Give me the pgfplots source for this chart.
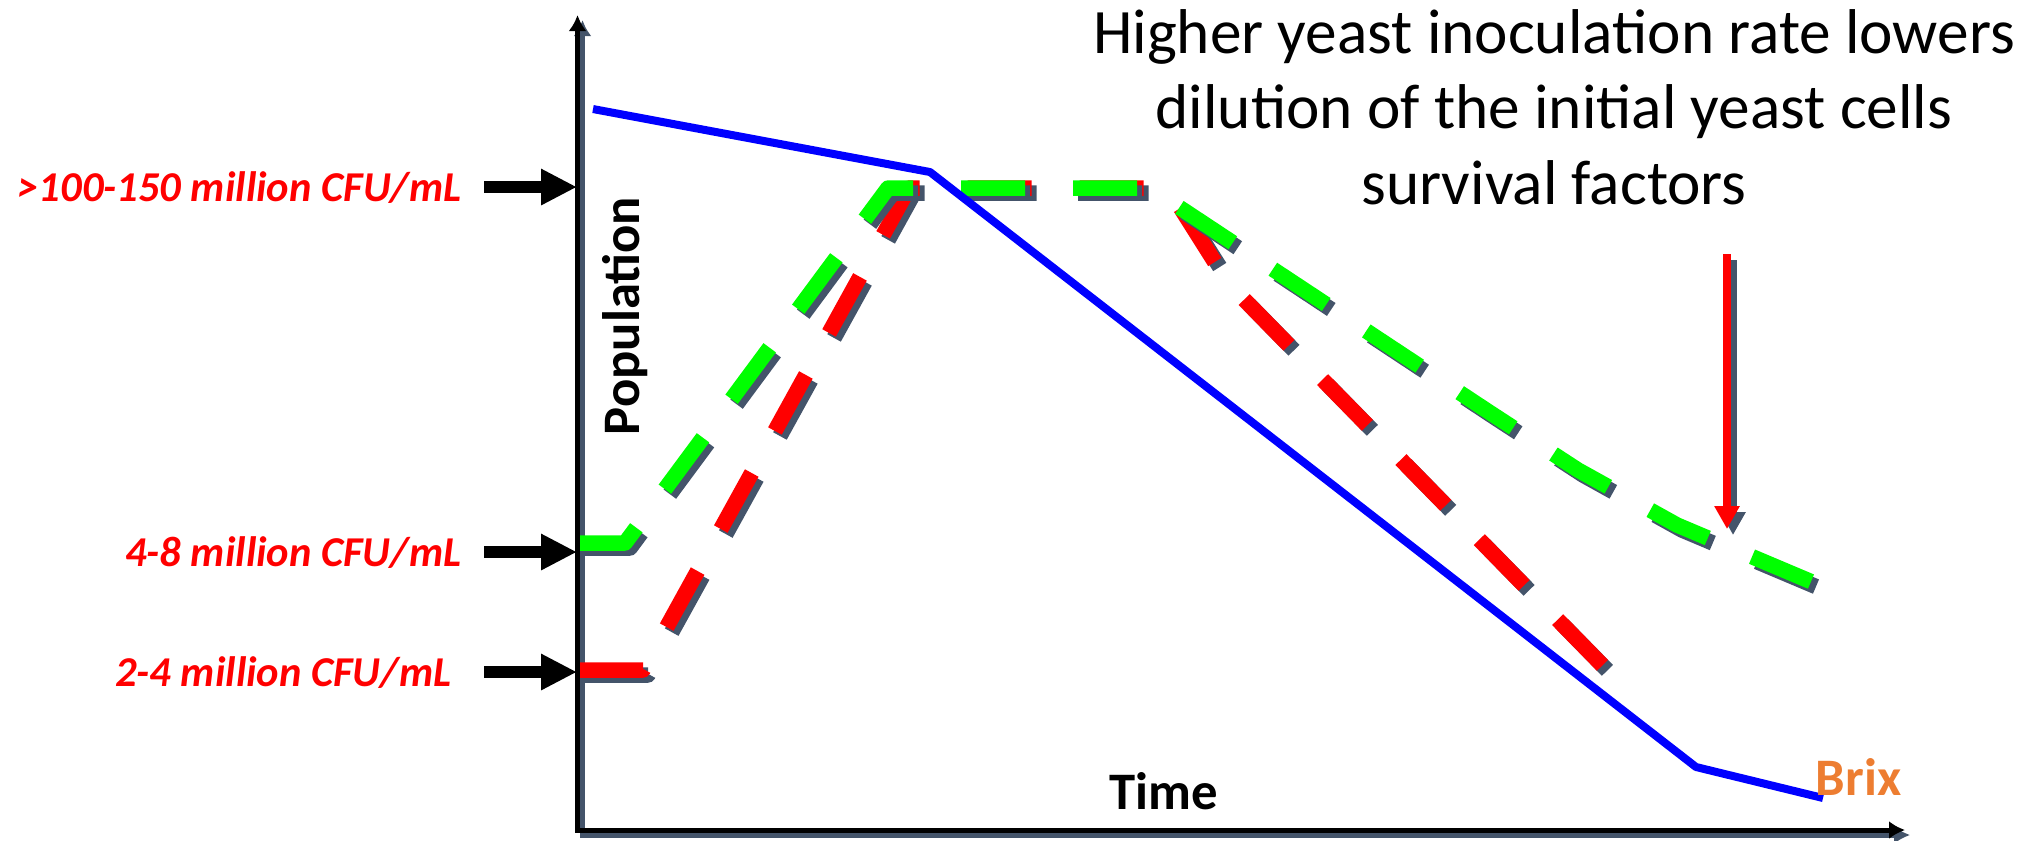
\documentclass[border=0pt]{standalone}
\usepackage{fontspec}
\setmainfont{Carlito}
\usepackage{pgfplots}
\usepackage{pgfplotstable}
\pgfplotsset{compat=1.18}
\usetikzlibrary{arrows.meta}
\definecolor{shad}{HTML}{44546A}
\definecolor{brixor}{HTML}{ED7D31}
\definecolor{gr}{HTML}{00FF00}

% pixel coordinates of the reference (y measured downwards)
\pgfplotstableread{
x y
593 109
930 172
1696 767
1823 798
}\brixdata
\pgfplotstableread{
x y
580 543
625 543
888 188
1150 188
1489 412
1578 470
1677 525
1812 582
}\greendata
\pgfplotstableread{
x y
580 670
643 670
909 188
1168 188
1228 283
1605 668
}\reddata

\begin{document}
\begin{tikzpicture}
\begin{axis}[
  width=20.39cm, height=8.4cm, scale only axis,
  xmin=0, xmax=2039, ymin=0, ymax=840, y dir=reverse,
  axis lines=none, clip=false,
  dashed yeast/.style={line width=1.55mm, dash pattern=on 6.4mm off 4.8mm, line join=round, line cap=butt},
]
% axes with shadow
\draw[shad, line width=0.5mm, -{Latex[length=1.6mm,width=1.8mm]}] (axis cs:582.5,835) -- (axis cs:582.5,20);
\draw[shad, line width=0.5mm, -{Latex[length=1.6mm,width=1.8mm]}] (axis cs:580,835) -- (axis cs:1910,835);
\draw[black, line width=0.5mm, -{Latex[length=1.6mm,width=1.8mm]}] (axis cs:577.5,832) -- (axis cs:577.5,15);
\draw[black, line width=0.5mm, -{Latex[length=1.6mm,width=1.8mm]}] (axis cs:575,830) -- (axis cs:1905,830);

% series
\addplot[dashed yeast, shad, xshift=0.5mm, yshift=-0.5mm] table {\reddata};
\addplot[dashed yeast, red] table {\reddata};
\addplot[dashed yeast, shad, xshift=0.5mm, yshift=-0.5mm] table {\greendata};
\addplot[dashed yeast, gr] table {\greendata};
\addplot[blue, line width=0.8mm, line join=round] table {\brixdata};

% left arrows and labels
\draw[black, line width=1.2mm, -{Triangle[length=3.6mm,width=3.4mm]}] (axis cs:484,187) -- (axis cs:577,187);
\draw[black, line width=1.2mm, -{Triangle[length=3.6mm,width=3.4mm]}] (axis cs:484,552) -- (axis cs:577,552);
\draw[black, line width=1.2mm, -{Triangle[length=3.6mm,width=3.4mm]}] (axis cs:484,672) -- (axis cs:577,672);
\begin{scope}[every node/.style={inner sep=0pt, text=red, font=\bfseries\itshape\fontsize{12.1}{15}\selectfont}]
\node[anchor=base east] at (axis cs:462,201) {>100-150 million CFU/mL};
\node[anchor=base east] at (axis cs:462,566) {4-8 million CFU/mL};
\node[anchor=base east] at (axis cs:452,686) {2-4 million CFU/mL};
\end{scope}

% red arrow
\draw[shad, line width=0.8mm, -{Triangle[length=2.3mm,width=2.4mm]}] (axis cs:1733,260) -- (axis cs:1733,535);
\draw[red, line width=0.8mm, -{Triangle[length=2.3mm,width=2.4mm]}] (axis cs:1727,254) -- (axis cs:1727,529);

% texts
\node[inner sep=0pt, rotate=90, anchor=base, font=\bfseries\fontsize{15}{18}\selectfont] at (axis cs:639,316) {Population};
\node[inner sep=0pt, anchor=base, font=\bfseries\fontsize{15}{18}\selectfont] at (axis cs:1164,809) {Time};
\node[inner sep=0pt, anchor=base west, text=brixor, font=\bfseries\fontsize{15}{18}\selectfont] at (axis cs:1815,795) {Brix};
\begin{scope}[every node/.style={inner sep=0pt, anchor=base, font=\fontsize{18}{22}\selectfont}]
\node at (axis cs:1554,53) {Higher yeast inoculation rate lowers};
\node at (axis cs:1554,128) {dilution of the initial yeast cells};
\node at (axis cs:1554,204) {survival factors};
\end{scope}
\end{axis}
\pgfresetboundingbox
\useasboundingbox (0,0) rectangle (20.39cm,8.4cm);
\end{tikzpicture}
\end{document}
